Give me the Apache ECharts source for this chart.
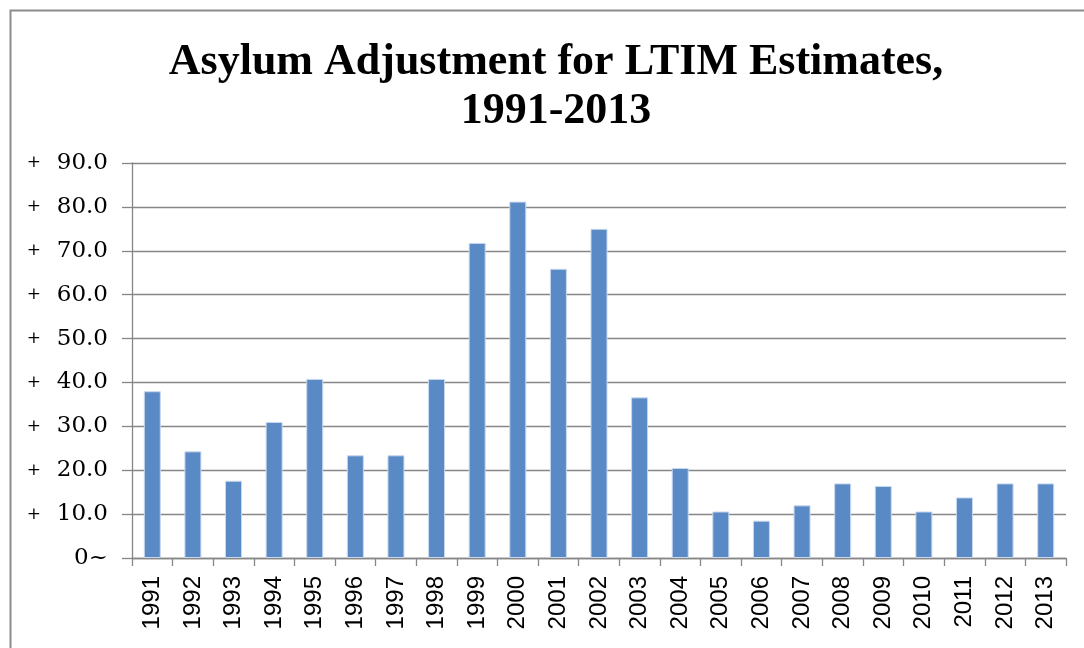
<!DOCTYPE html>
<html>
<head>
<meta charset="utf-8">
<script src="https://cdn.jsdelivr.net/npm/echarts@6/dist/echarts.min.js"></script>
<style>
  html, body { margin: 0; padding: 0; background: #ffffff; }
  #chart { width: 1084px; height: 648px; }
</style>
</head>
<body>
<div id="chart"></div>
<script>
// Asylum adjustment (thousands) per year
const years = ['1991','1992','1993','1994','1995','1996','1997','1998','1999','2000','2001','2002',
               '2003','2004','2005','2006','2007','2008','2009','2010','2011','2012','2013'];
const adjustment = [38.0, 24.3, 17.6, 31.0, 40.8, 23.4, 23.4, 40.8, 71.8, 81.2, 65.9, 75.0,
                    36.6, 20.5, 10.6, 8.5, 12.0, 17.0, 16.4, 10.6, 13.8, 17.0, 17.0];
const yTicks = [0, 10, 20, 30, 40, 50, 60, 70, 80, 90];

const chart = echarts.init(document.getElementById('chart'), null, { renderer: 'canvas' });

chart.setOption({
  animation: false,
  backgroundColor: '#ffffff',
  graphic: [{
    type: 'rect',
    shape: { x: 10.5, y: 10.5, width: 1100, height: 700 },
    style: { fill: 'none', stroke: '#8c8c8c', lineWidth: 2 },
    silent: true
  }],
  title: {
    text: 'Asylum Adjustment for LTIM Estimates,\n1991-2013',
    left: 551,
    textAlign: 'center',
    top: 33,
    textStyle: {
      fontFamily: 'Liberation Serif',
      fontWeight: 'bold',
      fontSize: 44,
      lineHeight: 49,
      color: '#000000'
    }
  },
  grid: { left: 132, right: 18, top: 163, bottom: 90, containLabel: false },
  xAxis: {
    type: 'category',
    data: years,
    boundaryGap: true,
    axisLine: { lineStyle: { color: '#868686', width: 1.3 } },
    axisTick: { show: true, alignWithLabel: false, length: 8, lineStyle: { color: '#868686', width: 1.3 } },
    axisLabel: {
      rotate: 90,
      margin: 18,
      fontFamily: 'Liberation Sans',
      fontSize: 24,
      color: '#000000'
    }
  },
  yAxis: {
    type: 'value',
    min: yTicks[0],
    max: yTicks[yTicks.length - 1],
    interval: 10,
    axisLine: { show: true, lineStyle: { color: '#868686', width: 1.3 } },
    axisTick: { show: true, length: 10, lineStyle: { color: '#868686', width: 1.3 } },
    splitLine: { lineStyle: { color: '#868686', width: 1.3 } },
    axisLabel: {
      margin: 24,
      color: '#000000',
      formatter: function (v) {
        return v === 0 ? '{n|0~}' : '{p|+}{n|' + v.toFixed(1) + '}';
      },
      rich: {
        p: { fontFamily: 'DejaVu Serif', fontSize: 17, width: 30, align: 'left', color: '#000000' },
        n: { fontFamily: 'DejaVu Serif', fontSize: 23, color: '#000000' }
      }
    }
  },
  series: [{
    type: 'bar',
    data: adjustment,
    barWidth: 17,
    itemStyle: { color: '#5a8ac6', borderColor: '#c8d8ee', borderWidth: 1 }
  }]
});
</script>
</body>
</html>
